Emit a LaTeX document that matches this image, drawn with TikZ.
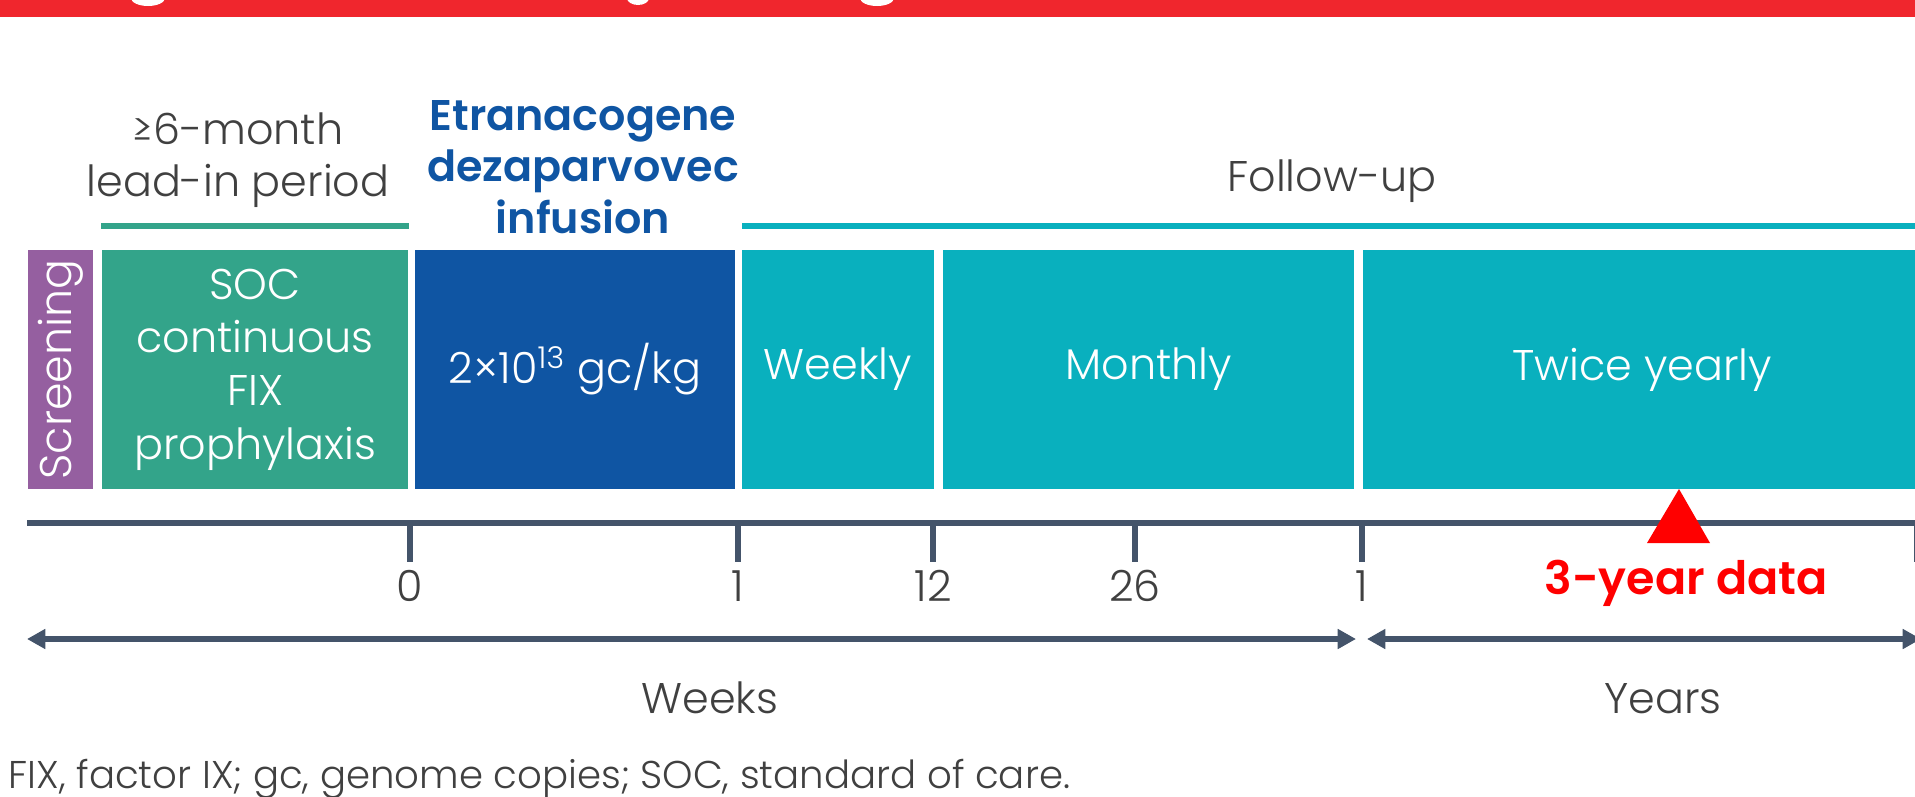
\documentclass[tikz,border=0pt]{standalone}
\usepackage{fontspec}
\setmainfont{Poppins}[UprightFont=* Light, BoldFont=* SemiBold]
\usetikzlibrary{arrows.meta}

\definecolor{bannerred}{HTML}{F0262D}
\definecolor{screenpurple}{HTML}{955FA0}
\definecolor{socgreen}{HTML}{33A48A}
\definecolor{dosblue}{HTML}{0F55A3}
\definecolor{fupteal}{HTML}{09B0BE}
\definecolor{axisgray}{HTML}{44546A}
\definecolor{txtgray}{HTML}{404040}
\definecolor{datared}{HTML}{FF0000}

\newcommand{\bodyfont}{\fontsize{12.2}{14.6}\selectfont}
\newcommand{\notefont}{\fontsize{11}{13}\selectfont}

\tikzset{
  phase/.style={inner sep=0pt, outer sep=0pt, minimum height=2.39cm,
    anchor=north west, text=white, align=center, font=\bodyfont},
  txt/.style={text=txtgray, font=\bodyfont, inner sep=0pt},
  axisline/.style={draw=axisgray, line width=1.7pt},
  span/.style={axisline, {Triangle[length=5.2pt,width=5.4pt]}-{Triangle[length=5.2pt,width=5.4pt]}},
}

\begin{document}
\begin{tikzpicture}[x=0.01cm, y=-0.01cm]
  \useasboundingbox (0,0) rectangle (1915,797);

  % banner at the top (title cut off)
  \fill[bannerred] (0,0) rectangle (1915,17);
  \fill[white] (148,-2) ellipse (17 and 8);
  \fill[white] (638,-2) ellipse (11 and 7);
  \fill[white] (877,-2) ellipse (17 and 8);

  % phase headers
  \node[txt, align=center] (leadin) at (238,160) {≥6-month\\lead-in period};
  \node[txt, align=center, text=dosblue, font=\bodyfont\bfseries] (infusion) at (583,167)
    {Etranacogene\\dezaparvovec\\infusion};
  \node[txt, anchor=base] (followup) at (1332,191) {Follow-up};
  \draw[socgreen, line width=1.7pt] (101,226) -- (409,226);
  \draw[fupteal, line width=1.7pt] (742,226) -- (1915,226);

  % study phases
  \node[phase, fill=screenpurple, minimum width=0.65cm] (screening) at (28,250) {};
  \node[rotate=90, text=white, font=\fontsize{12.6}{15}\selectfont, inner sep=0pt] (screentxt)
    at (screening.center) {Screening};
  \node[phase, fill=socgreen, minimum width=3.06cm,
    font=\fontsize{12.2}{15.2}\selectfont] (soc) at (102,250)
    {SOC\\continuous\\FIX\\prophylaxis};
  \node[phase, fill=dosblue, minimum width=3.20cm] (dose) at (415,250)
    {2×10\textsuperscript{13} gc/kg};
  \node[phase, fill=fupteal, minimum width=1.92cm] (weekly) at (742,250) {Weekly};
  \node[phase, fill=fupteal, minimum width=4.11cm] (monthly) at (943,250) {Monthly};
  \node[phase, fill=fupteal, minimum width=5.58cm] (twice) at (1363,250) {Twice yearly};

  % time axis
  \draw[axisline] (27,523) -- (1915,523);
  \foreach \x/\lx/\lab in {410/410/0, 738/738/1, 933/933/12, 1135/1135/26, 1362/1362/1, 1917/1926/3} {
    \draw[axisline] (\x,523) -- (\x,562);
    \node[txt, anchor=base] (tick\x) at (\lx,601) {\lab};
  }

  % 3-year data marker
  \fill[datared] (1679,489) -- (1710,543) -- (1647,543) -- cycle;
  \node[txt, anchor=base, text=datared, font=\fontsize{13.1}{15}\selectfont\bfseries] (threeyr)
    at (1686,594) {3-year data};

  % weeks / years spans
  \coordinate (wkstart) at (27,639);
  \coordinate (wkend) at (1356,639);
  \coordinate (yrstart) at (1367,639);
  \coordinate (yrend) at (1921,639);
  \draw[span] (wkstart) -- (wkend);
  \draw[span] (yrstart) -- (yrend);
  \node[txt, anchor=base] (weeks) at (710,713) {Weeks};
  \node[txt, anchor=base] (years) at (1663,713) {Years};

  % abbreviations
  \node[txt, anchor=base west, font=\notefont] (footnote) at (8,788)
    {FIX, factor IX; gc, genome copies; SOC, standard of care.};
\end{tikzpicture}
\end{document}
